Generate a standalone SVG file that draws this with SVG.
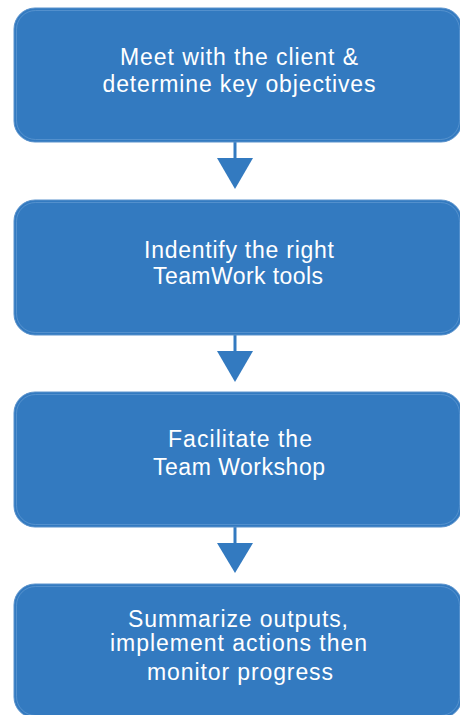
<svg xmlns="http://www.w3.org/2000/svg" width="460" height="715" viewBox="0 0 460 715">
<style>
.box{fill:#337ac0;stroke:#5a92cc;stroke-width:1}
.inner{fill:none;stroke:#6a9fd5;stroke-width:0.6}
.lbl{font-family:"Liberation Sans",Arial,sans-serif;font-size:23px;fill:#ffffff;text-anchor:middle}
.stem{stroke:#337ac0;stroke-width:3}
.head{fill:#337ac0}
</style>
<rect width="460" height="715" fill="#ffffff"/>
<g id="connectors">
<line class="stem" x1="235" y1="142" x2="235" y2="160"/>
<polygon class="head" points="217,158 253,158 235,189"/>
<line class="stem" x1="235" y1="335" x2="235" y2="353"/>
<polygon class="head" points="217,351 253,351 235,382"/>
<line class="stem" x1="235" y1="527" x2="235" y2="545"/>
<polygon class="head" points="217,543 253,543 235,573"/>
</g>
<g id="node1">
<rect class="box" x="14" y="8" width="448" height="134" rx="21"/>
<rect class="inner" x="16.5" y="10.5" width="443" height="129" rx="19"/>
<text class="lbl" x="239" y="65" textLength="238" lengthAdjust="spacing">Meet with the client &amp;</text>
<text class="lbl" x="239" y="92" textLength="273" lengthAdjust="spacing">determine key objectives</text>
</g>
<g id="node2">
<rect class="box" x="14" y="200" width="448" height="135" rx="21"/>
<rect class="inner" x="16.5" y="202.5" width="443" height="130" rx="19"/>
<text class="lbl" x="239" y="258" textLength="190" lengthAdjust="spacing">Indentify the right</text>
<text class="lbl" x="238" y="284" textLength="170" lengthAdjust="spacing">TeamWork tools</text>
</g>
<g id="node3">
<rect class="box" x="14" y="392" width="448" height="135" rx="21"/>
<rect class="inner" x="16.5" y="394.5" width="443" height="130" rx="19"/>
<text class="lbl" x="240" y="447" textLength="144" lengthAdjust="spacing">Facilitate the</text>
<text class="lbl" x="239" y="475" textLength="172" lengthAdjust="spacing">Team Workshop</text>
</g>
<g id="node4">
<rect class="box" x="14" y="584" width="448" height="134" rx="21"/>
<rect class="inner" x="16.5" y="586.5" width="443" height="129" rx="19"/>
<text class="lbl" x="238" y="627" textLength="220" lengthAdjust="spacing">Summarize outputs,</text>
<text class="lbl" x="238.5" y="651" textLength="257" lengthAdjust="spacing">implement actions then</text>
<text class="lbl" x="240" y="680" textLength="186" lengthAdjust="spacing">monitor progress</text>
</g>
</svg>
